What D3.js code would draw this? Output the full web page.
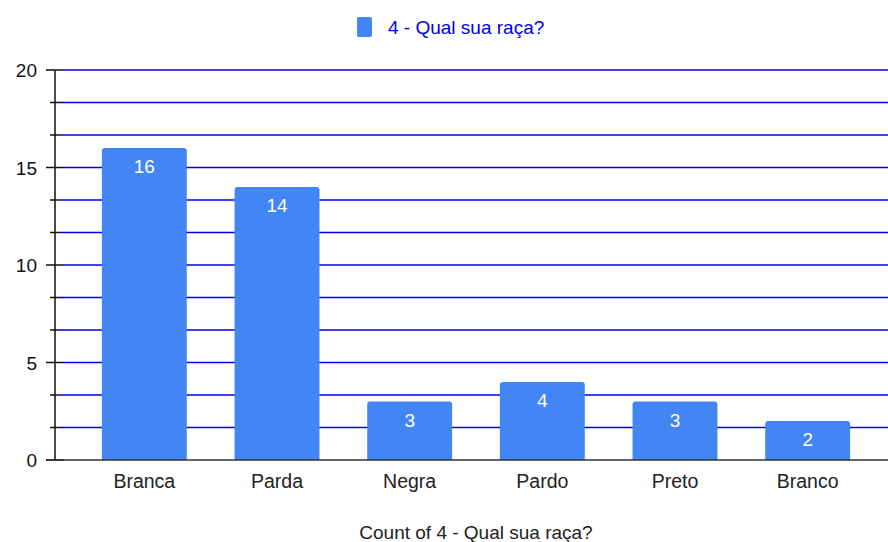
<!DOCTYPE html>
<html>
<head>
<meta charset="utf-8">
<script src="https://cdn.jsdelivr.net/npm/d3@7"></script>
<style>
  body { margin: 0; background: #fff; }
  text { font-family: "Liberation Sans", Arial, sans-serif; }
</style>
</head>
<body>
<svg width="888" height="542"></svg>
<script>
var categories = ["Branca", "Parda", "Negra", "Pardo", "Preto", "Branco"];
var counts = [16, 14, 3, 4, 3, 2];
var yTicks = [0, 5, 10, 15, 20];
var seriesName = "4 - Qual sua raça?";
var axisTitle = "Count of 4 - Qual sua raça?";

var svg = d3.select("svg");
var width = +svg.attr("width");
var barColor = "#4285f4";
var gridColor = "#0000ee";

var x = d3.scaleBand()
    .domain(categories)
    .range([78, 874])
    .paddingInner(0.36)
    .paddingOuter(0.18);

var y = d3.scaleLinear()
    .domain([0, 20])
    .range([460, 70]);

// minor lines: two between each pair of major ticks
var minor = d3.range(1, 12).map(function(i) { return i * 20 / 12; })
    .filter(function(v, i) { return (i + 1) % 3 != 0; });

// gridlines
svg.append("g").selectAll("line")
    .data(yTicks.slice(1))
    .enter().append("line")
    .attr("x1", 64).attr("x2", width)
    .attr("y1", function(d) { return y(d); })
    .attr("y2", function(d) { return y(d); })
    .style("stroke", gridColor)
    .style("stroke-width", 1.5);

svg.append("g").selectAll("line")
    .data(minor)
    .enter().append("line")
    .attr("x1", 60).attr("x2", width)
    .attr("y1", function(d) { return y(d); })
    .attr("y2", function(d) { return y(d); })
    .style("stroke", gridColor)
    .style("stroke-width", 1.5);

// bars with rounded tops
var r = 3;
svg.append("g").selectAll("path")
    .data(counts)
    .enter().append("path")
    .attr("d", function(d, i) {
      var x0 = x(categories[i]), x1 = x0 + x.bandwidth();
      var y0 = y(d), yb = y(0);
      return "M" + x0 + "," + yb +
        "V" + (y0 + r) + "Q" + x0 + "," + y0 + "," + (x0 + r) + "," + y0 +
        "H" + (x1 - r) + "Q" + x1 + "," + y0 + "," + x1 + "," + (y0 + r) +
        "V" + yb + "Z";
    })
    .style("fill", barColor);

// value labels
svg.append("g").selectAll("text")
    .data(counts)
    .enter().append("text")
    .attr("x", function(d, i) { return x(categories[i]) + x.bandwidth() / 2; })
    .attr("y", function(d) { return y(d) + 25; })
    .attr("text-anchor", "middle")
    .style("fill", "#fff")
    .style("font-size", "19px")
    .text(function(d) { return d; });

// y axis line and ticks
svg.append("line")
    .attr("x1", 55).attr("x2", 55).attr("y1", y(20)).attr("y2", y(0))
    .style("stroke", "#111").style("stroke-width", 1.5);

svg.append("g").selectAll("line")
    .data(yTicks)
    .enter().append("line")
    .attr("x1", 46).attr("x2", 64)
    .attr("y1", function(d) { return y(d); })
    .attr("y2", function(d) { return y(d); })
    .style("stroke", "#111").style("stroke-width", 1.5);

svg.append("g").selectAll("line")
    .data(minor)
    .enter().append("line")
    .attr("x1", 50).attr("x2", 60)
    .attr("y1", function(d) { return y(d); })
    .attr("y2", function(d) { return y(d); })
    .style("stroke", "#111").style("stroke-width", 1.5);

svg.append("g").selectAll("text")
    .data(yTicks)
    .enter().append("text")
    .attr("x", 37)
    .attr("y", function(d) { return y(d) + 7; })
    .attr("text-anchor", "end")
    .style("fill", "#111")
    .style("font-size", "19px")
    .text(function(d) { return d; });

// baseline
svg.append("line")
    .attr("x1", 46).attr("x2", width).attr("y1", y(0)).attr("y2", y(0))
    .style("stroke", "#333").style("stroke-width", 1.5);

// x labels
svg.append("g").selectAll("text")
    .data(categories)
    .enter().append("text")
    .attr("x", function(d) { return x(d) + x.bandwidth() / 2; })
    .attr("y", 488)
    .attr("text-anchor", "middle")
    .style("fill", "#222")
    .style("font-size", "19.5px")
    .text(function(d) { return d; });

svg.append("text")
    .attr("x", 476)
    .attr("y", 539)
    .attr("text-anchor", "middle")
    .style("fill", "#222")
    .style("font-size", "19px")
    .text(axisTitle);

// legend
svg.append("rect")
    .attr("x", 357).attr("y", 17).attr("width", 15).attr("height", 20)
    .attr("rx", 2)
    .style("fill", barColor);
svg.append("text")
    .attr("x", 388).attr("y", 34)
    .style("fill", gridColor)
    .style("font-size", "19px")
    .text(seriesName);
</script>
</body>
</html>
